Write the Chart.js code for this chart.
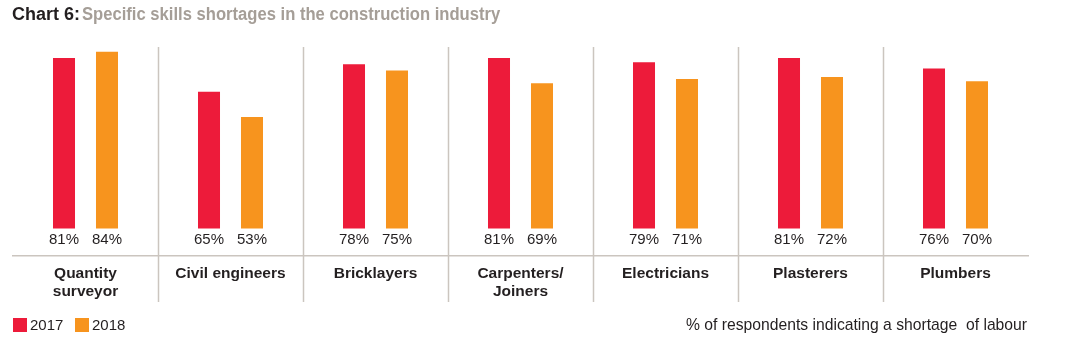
<!DOCTYPE html>
<html>
<head>
<meta charset="utf-8">
<script src="https://cdn.jsdelivr.net/npm/chart.js@4.4.0/dist/chart.umd.min.js"></script>
<style>
    html, body { margin: 0; padding: 0; background: #fff; }
    #wrap { position: relative; width: 1072px; height: 353px; }
</style>
</head>
<body>
<div id="wrap"><canvas id="chart" width="1072" height="353"></canvas></div>
<script>
// Chart data
const categories = [['Quantity', 'surveyor'], 'Civil engineers', 'Bricklayers', ['Carpenters/', 'Joiners'], 'Electricians', 'Plasterers', 'Plumbers'];
const values2017 = [81, 65, 78, 81, 79, 81, 76];
const values2018 = [84, 53, 75, 69, 71, 72, 70];
const seriesLabels = ['2017', '2018'];

const RED = '#ED1B3A';
const ORANGE = '#F7941E';
const LINE = '#CBC5BF';
const TEXT = '#231F20';
const FONT = '"Liberation Sans", Arial, Helvetica, sans-serif';

// Custom drawing: separators, value labels, title, legend, footnote
const decorations = {
    id: 'decorations',
    beforeDatasetsDraw(chart) {
        const ctx = chart.ctx;
        const x = chart.scales.x;
        const area = chart.chartArea;
        ctx.save();
        ctx.strokeStyle = LINE;
        ctx.lineWidth = 1.5;
        for (let i = 0; i < categories.length - 1; i++) {
            const px = Math.round((x.getPixelForValue(i) + x.getPixelForValue(i + 1)) / 2) + 0.5;
            ctx.beginPath();
            ctx.moveTo(px, area.top);
            ctx.lineTo(px, 302);
            ctx.stroke();
        }
        ctx.restore();
    },
    afterDatasetsDraw(chart) {
        const ctx = chart.ctx;
        ctx.save();
        ctx.font = '15px ' + FONT;
        ctx.fillStyle = TEXT;
        ctx.textAlign = 'center';
        ctx.textBaseline = 'middle';
        chart.data.datasets.forEach((ds, di) => {
            chart.getDatasetMeta(di).data.forEach((bar, i) => {
                ctx.fillText(ds.data[i] + '%', bar.x, 240);
            });
        });

        // Title
        ctx.textAlign = 'left';
        ctx.font = 'bold 18px ' + FONT;
        ctx.fillStyle = TEXT;
        const lead = 'Chart 6: ';
        ctx.fillText(lead, 12, 15);
        const w = ctx.measureText(lead).width;
        ctx.save();
        ctx.translate(82, 0);
        ctx.scale(0.923, 1);
        ctx.fillStyle = '#A59E97';
        ctx.fillText('Specific skills shortages in the construction industry', 0, 15);
        ctx.restore();

        // Legend
        ctx.font = '15px ' + FONT;
        const colors = [RED, ORANGE];
        const lx = [13, 75];
        seriesLabels.forEach((lab, i) => {
            ctx.fillStyle = colors[i];
            ctx.fillRect(lx[i], 318, 14, 14);
            ctx.fillStyle = TEXT;
            ctx.fillText(lab, lx[i] + 17, 326);
        });

        // Footnote
        ctx.textAlign = 'right';
        ctx.font = '15.7px ' + FONT;
        ctx.fillText('% of respondents indicating a shortage  of labour', 1027, 326);
        ctx.restore();
    }
};

const ctx = document.getElementById('chart').getContext('2d');
new Chart(ctx, {
    type: 'bar',
    data: {
        labels: categories,
        datasets: [
            {
                label: seriesLabels[0],
                data: values2017,
                backgroundColor: RED,
                categoryPercentage: 0.593,
                barPercentage: 0.512
            },
            {
                label: seriesLabels[1],
                data: values2018,
                backgroundColor: ORANGE,
                categoryPercentage: 0.593,
                barPercentage: 0.512
            }
        ]
    },
    options: {
        responsive: false,
        animation: false,
        layout: {
            padding: { left: 13, right: 44, top: 47, bottom: 0 }
        },
        plugins: {
            legend: { display: false },
            tooltip: { enabled: false }
        },
        scales: {
            x: {
                grid: { display: false },
                border: { display: true, color: LINE, width: 1.5 },
                ticks: {
                    color: TEXT,
                    padding: 1,
                    maxRotation: 0,
                    autoSkip: false,
                    font: { family: FONT, size: 15.5, weight: 'bold', lineHeight: 1.16 }
                },
                afterFit(scale) {
                    scale.height = 97;
                }
            },
            y: {
                display: false,
                min: -13,
                max: 86.2
            }
        }
    },
    plugins: [decorations]
});
</script>
</body>
</html>
